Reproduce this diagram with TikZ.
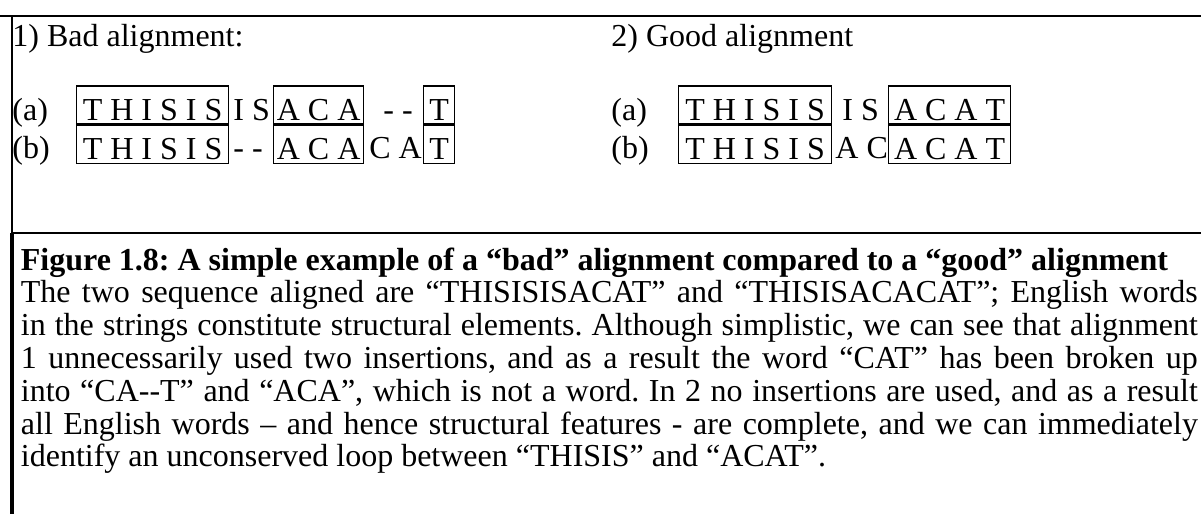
\documentclass[tikz,border=0pt]{standalone}
\usepackage{fontspec}
\setmainfont{Liberation Serif}
\usetikzlibrary{positioning}
\frenchspacing

\begin{document}
\begin{tikzpicture}[
    x=0.5pt, y=-0.5pt,
    every node/.style={font=\fontsize{16}{16.4}\selectfont, inner sep=0pt},
    cell/.style={draw, line width=0.6pt, text height=17pt, text depth=2pt, align=center},
    seq/.style={anchor=base west},
    rule/.style={line width=1.1pt}
]
    \useasboundingbox (0,0) rectangle (1201,514);

    % frame
    \draw[line width=1.3pt] (0,16) -- (1201,16);
    \draw[rule] (12,16) -- (12,233);
    \draw[rule] (12,233) -- (1201,233);
    \draw[line width=1.6pt] (12,233) -- (12,514);

    % bad alignment
    \node[seq] (badtitle) at (12,46.7) {1) Bad alignment:};
    \node[seq] (bada) at (12,120) {(a)};
    \node[seq] (badb) at (12,158) {(b)};
    \node[cell, anchor=base west, minimum width=76pt] (la1) at (76,120) {T H I S I S};
    \node[seq] (la2) at (233,120) {I S};
    \node[cell, anchor=base west, minimum width=45pt] (la3) at (273,120) {A C A};
    \node[seq] (la4) at (383,120) {- -};
    \node[cell, anchor=base west, minimum width=15.5pt] (la5) at (423,120) {T};
    \node[cell, below=0pt of la1, minimum width=76pt] (lb1) {T H I S I S};
    \node[seq] (lb2) at (233,158) {- -};
    \node[cell, below=0pt of la3, minimum width=45pt] (lb3) {A C A};
    \node[seq] (lb4) at (369,158) {C A};
    \node[cell, below=0pt of la5, minimum width=15.5pt] (lb5) {T};

    % good alignment
    \node[seq] (goodtitle) at (611,46.7) {2) Good alignment};
    \node[seq] (gooda) at (611,120) {(a)};
    \node[seq] (goodb) at (611,158) {(b)};
    \node[cell, anchor=base west, minimum width=76.5pt] (ra1) at (678,120) {T H I S I S};
    \node[seq] (ra2) at (842,120) {I S};
    \node[cell, anchor=base west, minimum width=61pt] (ra3) at (888,120) {A C A T};
    \node[cell, below=0pt of ra1, minimum width=76.5pt] (rb1) {T H I S I S};
    \node[seq] (rb2) at (835,158) {A C};
    \node[cell, below=0pt of ra3, minimum width=61pt] (rb3) {A C A T};

    % caption
    \node[anchor=base west, text width=588.5pt, align=justify] (caption) at (20.5,270) {%
        \textbf{Figure 1.8: A simple example of a “bad” alignment compared to a “good” alignment}\\
        The two sequence aligned are “THISISISACAT” and “THISISACACAT”; English words\linebreak
        in the strings constitute structural elements. Although simplistic, we can see that alignment\linebreak
        1 unnecessarily used two insertions, and as a result the word “CAT” has been broken up\linebreak
        into “CA-{}-T” and “ACA”, which is not a word. In 2 no insertions are used, and as a result\linebreak
        all English words – and hence structural features - are complete, and we can immediately\linebreak
        identify an unconserved loop between “THISIS” and “ACAT”.};
\end{tikzpicture}
\end{document}
